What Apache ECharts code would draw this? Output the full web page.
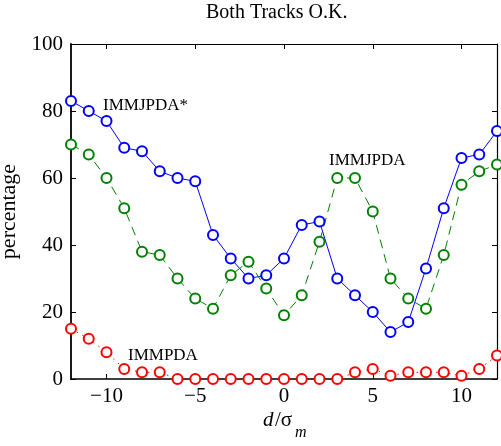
<!DOCTYPE html>
<html>
<head>
<meta charset="utf-8">
<script src="https://cdn.jsdelivr.net/npm/echarts@6/dist/echarts.min.js"></script>
<style>
  html, body { margin: 0; padding: 0; background: #fff; }
  #chart { width: 501px; height: 446px; }
</style>
</head>
<body>
<div id="chart"></div>
<script>
var offsets = [-12, -11, -10, -9, -8, -7, -6, -5, -4, -3, -2, -1, 0, 1, 2, 3, 4, 5, 6, 7, 8, 9, 10, 11, 12];
var jpdaStar = [83, 80, 77, 69, 68, 62, 60, 59, 43, 36, 30, 31, 36, 46, 47, 30, 25, 20, 14, 17, 33, 51, 66, 67, 74];
var jpda = [70, 67, 60, 51, 38, 37, 30, 24, 21, 31, 35, 27, 19, 25, 41, 60, 60, 50, 30, 24, 21, 37, 58, 62, 64];
var pda = [15, 12, 8, 3, 2, 2, 0, 0, 0, 0, 0, 0, 0, 0, 0, 0, 2, 3, 1, 2, 2, 2, 1, 3, 7];
var xTicks = [-10, -5, 0, 5, 10];
var yTicks = [0, 20, 40, 60, 80, 100];

var font = "'Liberation Serif', 'DejaVu Serif', serif";

function pairs(ys) {
  return offsets.map(function (x, i) { return [x, ys[i]]; });
}

var myChart = echarts.init(document.getElementById("chart"));

function axisLine(w) {
  return { show: true, onZero: false, lineStyle: { color: "#000", width: w } };
}
var tick = { show: true, inside: true, length: 5, lineStyle: { color: "#000" } };

myChart.setOption({
  animation: false,
  backgroundColor: "#fff",
  grid: { left: 71, right: 4, top: 44, bottom: 67, containLabel: false, outerBoundsMode: "none" },
  xAxis: [
    {
      type: "value", min: -12, max: 12,
      axisLine: axisLine(1.5),
      axisTick: Object.assign({ customValues: xTicks }, tick),
      axisLabel: {
        customValues: xTicks, margin: 7, color: "#000", fontFamily: font, fontSize: 21,
        formatter: function (v) { return String(v).replace("-", "\u2212"); }
      },
      splitLine: { show: false }
    },
    {
      type: "value", min: -12, max: 12, position: "top",
      axisLine: axisLine(1.2),
      axisTick: Object.assign({ customValues: xTicks }, tick),
      axisLabel: { show: false },
      splitLine: { show: false }
    }
  ],
  yAxis: [
    {
      type: "value", min: 0, max: 100,
      axisLine: axisLine(1.8),
      axisTick: Object.assign({ customValues: yTicks }, tick),
      axisLabel: { customValues: yTicks, margin: 8, color: "#000", fontFamily: font, fontSize: 21 },
      splitLine: { show: false },
      name: "percentage", nameLocation: "middle", nameGap: 40,
      nameTextStyle: { color: "#000", fontFamily: font, fontSize: 22 }
    },
    {
      type: "value", min: 0, max: 100, position: "right",
      axisLine: axisLine(1.2),
      axisTick: Object.assign({ customValues: yTicks }, tick),
      axisLabel: { show: false },
      splitLine: { show: false }
    }
  ],
  series: [
    {
      name: "IMMJPDA*", type: "line", data: pairs(jpdaStar),
      symbol: "emptyCircle", symbolSize: 10,
      lineStyle: { color: "#0000ff", width: 1 },
      itemStyle: { color: "#0000ff", borderColor: "#0000ff", borderWidth: 0.9 }
    },
    {
      name: "IMMJPDA", type: "line", data: pairs(jpda),
      symbol: "emptyCircle", symbolSize: 10,
      lineStyle: { color: "#008000", width: 1, type: [9, 6] },
      itemStyle: { color: "#008000", borderColor: "#008000", borderWidth: 0.9 }
    },
    {
      name: "IMMPDA", type: "line", data: pairs(pda),
      symbol: "emptyCircle", symbolSize: 10,
      lineStyle: { color: "#ff0000", width: 1, type: [1.5, 5] },
      itemStyle: { color: "#ff0000", borderColor: "#ff0000", borderWidth: 0.9 }
    }
  ],
  graphic: [
    { type: "text", left: 206, top: 3, style: { text: "Both Tracks O.K.", fill: "#000", font: "20px " + font } },
    { type: "text", left: 103, top: 97, style: { text: "IMMJPDA*", fill: "#000", font: "17px " + font } },
    { type: "text", left: 329, top: 152, style: { text: "IMMJPDA", fill: "#000", font: "17px " + font } },
    { type: "text", left: 128, top: 347, style: { text: "IMMPDA", fill: "#000", font: "17px " + font } },
    { type: "text", left: 263, top: 410, style: { text: "d", fill: "#000", font: "italic 21px " + font } },
    { type: "text", left: 275, top: 410, style: { text: "/\u03c3", fill: "#000", font: "21px " + font } },
    { type: "text", left: 295, top: 425, style: { text: "m", fill: "#000", font: "italic 16px " + font } }
  ]
});
</script>
</body>
</html>
